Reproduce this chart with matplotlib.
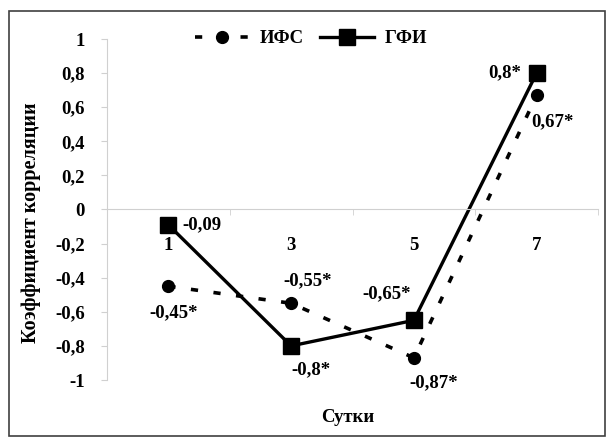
import matplotlib
matplotlib.use('Agg')
import matplotlib.pyplot as plt
from matplotlib.patches import Rectangle

plt.rcParams['font.family'] = ['Liberation Serif', 'DejaVu Serif']
plt.rcParams['font.weight'] = 'bold'

days = ['1', '3', '5', '7']
ifs = [-0.45, -0.55, -0.87, 0.67]
gfi = [-0.09, -0.8, -0.65, 0.8]
ifs_labels = ['-0,45*', '-0,55*', '-0,87*', '0,67*']
gfi_labels = ['-0,09', '-0,8*', '-0,65*', '0,8*']
ifs_offsets = [(4, -19), (12, 16.5), (14, -18), (11.5, -18.7)]
gfi_offsets = [(10, 0), (14, -17), (-19.5, 19.5), (-23, 0)]
gfi_ha = ['left', 'center', 'center', 'center']

fs = 13.5
grey = '#d0d0d0'

fig = plt.figure(figsize=(6.12, 4.4), dpi=100)
ax = fig.add_axes([107 / 612, 60 / 440, 491 / 612, 341 / 440])

x = list(range(len(days)))
ax.plot(x, ifs, color='black', lw=2.6, ls=(0, (2.0, 4.3)), dash_capstyle='butt',
        marker='o', ms=8.5, label='ИФС')
ax.plot(x, gfi, color='black', lw=2.4, marker='s', ms=11.5, label='ГФИ')

for i in x:
    ax.annotate(ifs_labels[i], (x[i], ifs[i]), xytext=ifs_offsets[i], textcoords='offset points',
                ha='center', va='center', fontsize=fs, fontweight='bold')
    ax.annotate(gfi_labels[i], (x[i], gfi[i]), xytext=gfi_offsets[i], textcoords='offset points',
                ha=gfi_ha[i], va='center', fontsize=fs, fontweight='bold')

ax.set_xlim(-0.5, 3.5)
ax.set_ylim(-1, 1)
ax.set_yticks([1, 0.8, 0.6, 0.4, 0.2, 0, -0.2, -0.4, -0.6, -0.8, -1])
ax.set_yticklabels(['1', '0,8', '0,6', '0,4', '0,2', '0', '-0,2', '-0,4', '-0,6', '-0,8', '-1'])
ax.set_xticks(x)
ax.set_xticklabels(days)
ax.set_xticks([0.5, 1.5, 2.5, 3.5], minor=True)

for s in ['top', 'right']:
    ax.spines[s].set_visible(False)
ax.spines['bottom'].set_position(('data', 0))
ax.spines['bottom'].set_color(grey)
ax.spines['left'].set_color(grey)
ax.tick_params(axis='y', length=4.5, color=grey, pad=11.5, labelsize=fs)
ax.tick_params(axis='x', which='major', length=0, pad=19.5, labelsize=fs)
ax.tick_params(axis='x', which='minor', length=4.5, color=grey)

ax.set_xlabel('Сутки', fontsize=fs, fontweight='bold')
ax.xaxis.set_label_coords(0.49, -0.085)
ax.set_ylabel('Коэффициент корреляции', fontsize=14.5, fontweight='bold')
ax.yaxis.set_label_coords(-0.135, 0.46)

ax.legend(loc='upper center', bbox_to_anchor=(0.415, 1.075), ncol=2, frameon=False,
          fontsize=fs, handlelength=2.9, columnspacing=0.85, handletextpad=0.55)

fig.add_artist(Rectangle((9 / 612, 4 / 440), 596 / 612, 425 / 440, transform=fig.transFigure,
                         fill=False, edgecolor='#404040', lw=1.2))

fig.savefig('out.png', dpi=100)
